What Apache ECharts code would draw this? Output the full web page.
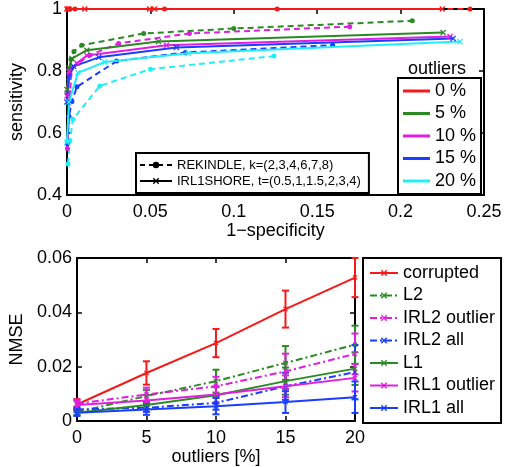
<!DOCTYPE html>
<html><head><meta charset="utf-8">
<script src="https://cdn.jsdelivr.net/npm/echarts@6/dist/echarts.min.js"></script>
<style>html,body{margin:0;padding:0;background:#fff}#c{width:510px;height:467px}</style>
</head><body><div id="c"></div>
<script>
// ---------- top chart data: [1-specificity, sensitivity] ----------
const outlierLevels = ['0 %', '5 %', '10 %', '15 %', '20 %'];
const rekindle0 = [[0.0003,1],[0.0018,1],[0.0048,1],[0.0585,1],[0.126,1],[0.2416,1]];
const irl1shore0 = [[0,1],[0.0009,1],[0.0107,1],[0.0495,1],[0.0525,1],[0.225,1]];
const rekindle5 = [[0.0003,0.727],[0.0024,0.838],[0.0042,0.863],[0.0089,0.883],[0.046,0.921],[0.1,0.937],[0.207,0.962]];
const irl1shore5 = [[0,0.74],[0.0012,0.81],[0.003,0.84],[0.0119,0.867],[0.0549,0.895],[0.2255,0.924]];
const rekindle10 = [[0.0003,0.55],[0.0018,0.73],[0.003,0.81],[0.0137,0.851],[0.031,0.889],[0.0734,0.921],[0.1695,0.943]];
const irl1shore10 = [[0,0.72],[0.0012,0.80],[0.006,0.825],[0.012,0.85],[0.0597,0.883],[0.2297,0.911]];
const rekindle15 = [[0.0003,0.565],[0.0012,0.654],[0.003,0.702],[0.006,0.749],[0.0298,0.832],[0.071,0.86],[0.1593,0.883]];
const irl1shore15 = [[0,0.70],[0.0012,0.78],[0.004,0.815],[0.0191,0.844],[0.0656,0.876],[0.2315,0.905]];
const rekindle20 = [[0.0006,0.50],[0.0018,0.575],[0.0036,0.644],[0.0197,0.752],[0.0501,0.806],[0.1241,0.848]];
const irl1shore20 = [[0,0.57],[0.0012,0.70],[0.0066,0.794],[0.0227,0.829],[0.0728,0.857],[0.2357,0.895]];
const topXTicks = [0, 0.05, 0.1, 0.15, 0.2, 0.25];
const topYTicks = [0.4, 0.6, 0.8, 1];

// ---------- bottom chart data: NMSE vs outliers [%] ----------
const outlierPct = [0, 5, 10, 15, 20];
const methodNames = ['corrupted','L2','IRL2 outlier','IRL2 all','L1','IRL1 outlier','IRL1 all'];
const nmseCorrupted   = [0.0061, 0.0177, 0.0287, 0.0412, 0.0528];
const errCorrupted    = [0.0020, 0.0043, 0.0052, 0.0068, 0.0072];
const nmseL2          = [0.0033, 0.0092, 0.0147, 0.0214, 0.0281];
const errL2           = [0.0012, 0.0022, 0.0042, 0.0062, 0.0070];
const nmseIRL2out     = [0.0064, 0.0098, 0.0128, 0.0183, 0.0247];
const errIRL2out      = [0.0015, 0.0025, 0.0035, 0.0065, 0.0075];
const nmseIRL2all     = [0.0043, 0.0049, 0.0067, 0.0128, 0.0180];
const errIRL2all      = [0.0010, 0.0015, 0.0025, 0.0050, 0.0100];
const nmseL1          = [0.0031, 0.0059, 0.0095, 0.0147, 0.0193];
const errL1           = [0.0010, 0.0015, 0.0030, 0.0050, 0.0060];
const nmseIRL1out     = [0.0059, 0.0076, 0.0098, 0.0128, 0.0159];
const errIRL1out      = [0.0015, 0.0020, 0.0030, 0.0040, 0.0050];
const nmseIRL1all     = [0.0031, 0.0043, 0.0055, 0.0070, 0.0088];
const errIRL1all      = [0.0012, 0.0020, 0.0030, 0.0040, 0.0058];

// ---------- styling ----------
const FONT = 'Liberation Sans';
const RED = '#f51a1a', GREEN = '#2a8a22', MAG = '#e01ee0', BLUE = '#1a3dff', CYAN = '#22eef6';
const levelColors = [RED, GREEN, MAG, BLUE, CYAN];
const XSYM = 'path://M0,1.5L1.5,0L5,3.5L8.5,0L10,1.5L6.5,5L10,8.5L8.5,10L5,6.5L1.5,10L0,8.5L3.5,5Z';

const rekAll = [rekindle0, rekindle5, rekindle10, rekindle15, rekindle20];
const irlAll = [irl1shore0, irl1shore5, irl1shore10, irl1shore15, irl1shore20];

const series = [];
irlAll.forEach((d, i) => series.push({
  name: outlierLevels[i], type: 'line', xAxisIndex: 0, yAxisIndex: 0, data: d,
  clip: false, symbol: XSYM, symbolSize: 6, showSymbol: true,
  lineStyle: {color: levelColors[i], width: 2}, itemStyle: {color: levelColors[i]}, z: 3
}));
rekAll.forEach((d, i) => series.push({
  name: outlierLevels[i], type: 'line', xAxisIndex: 0, yAxisIndex: 0, data: d,
  clip: false, symbol: 'circle', symbolSize: 5, showSymbol: true,
  lineStyle: {color: levelColors[i], width: 2, type: [6, 4]}, itemStyle: {color: levelColors[i]}, z: 2
}));
series.push({name: 'REKINDLE, k=(2,3,4,6,7,8)', type: 'line', xAxisIndex: 0, yAxisIndex: 0, data: [],
  symbol: 'circle', symbolSize: 5, lineStyle: {color: '#000', width: 2, type: [5, 4]}, itemStyle: {color: '#000'}});
series.push({name: 'IRL1SHORE, t=(0.5,1,1.5,2,3,4)', type: 'line', xAxisIndex: 0, yAxisIndex: 0, data: [],
  symbol: XSYM, symbolSize: 5, lineStyle: {color: '#000', width: 2}, itemStyle: {color: '#000'}});

const bottomVals = [nmseCorrupted, nmseL2, nmseIRL2out, nmseIRL2all, nmseL1, nmseIRL1out, nmseIRL1all];
const bottomErrs = [errCorrupted, errL2, errIRL2out, errIRL2all, errL1, errIRL1out, errIRL1all];
const bottomColors = [RED, GREEN, MAG, BLUE, GREEN, MAG, BLUE];
const bottomDash = [false, true, true, true, false, false, false];
bottomVals.forEach((v, i) => series.push({
  name: methodNames[i], type: 'line', xAxisIndex: 2, yAxisIndex: 2,
  data: outlierPct.map((x, j) => [x, v[j]]), clip: false,
  symbol: XSYM, symbolSize: 5, showSymbol: true,
  lineStyle: {color: bottomColors[i], width: 2, type: bottomDash[i] ? [7, 3, 2, 3] : 'solid'},
  itemStyle: {color: bottomColors[i]}, z: 3
}));
bottomVals.forEach((v, i) => series.push({
  name: methodNames[i], type: 'custom', xAxisIndex: 2, yAxisIndex: 2, clip: false, z: 2,
  data: outlierPct.map((x, j) => [x, v[j] - bottomErrs[i][j], v[j] + bottomErrs[i][j]]),
  renderItem: function (params, api) {
    const x = api.value(0);
    const a = api.coord([x, api.value(1)]), b = api.coord([x, api.value(2)]);
    const w = 3.5, st = {stroke: bottomColors[i], lineWidth: 2};
    return {type: 'group', children: [
      {type: 'line', shape: {x1: a[0], y1: a[1], x2: b[0], y2: b[1]}, style: st},
      {type: 'line', shape: {x1: a[0]-w, y1: a[1], x2: a[0]+w, y2: a[1]}, style: st},
      {type: 'line', shape: {x1: b[0]-w, y1: b[1], x2: b[0]+w, y2: b[1]}, style: st}
    ]};
  }
}));

const lblStyle = {color: '#000', fontSize: 18, fontFamily: FONT};
function mainAxis(extra) {
  return Object.assign({
    axisLine: {show: true, onZero: false, lineStyle: {color: '#000', width: 2}},
    axisTick: {show: true, inside: true, length: 5, lineStyle: {color: '#000', width: 1.5}},
    axisLabel: Object.assign({margin: 8}, lblStyle),
    splitLine: {show: false},
    nameTextStyle: lblStyle, nameLocation: 'middle'
  }, extra);
}
function mirrorAxis(extra) {
  return Object.assign({
    axisLine: {show: true, onZero: false, lineStyle: {color: '#000', width: 2}},
    axisTick: {show: true, inside: true, length: 5, lineStyle: {color: '#000', width: 1.5}},
    axisLabel: {show: false}, splitLine: {show: false}
  }, extra);
}

const option = {
  animation: false,
  textStyle: {fontFamily: FONT},
  grid: [
    {left: 65, top: 6, width: 419, height: 189, containLabel: false},
    {left: 76, top: 258, width: 279, height: 164, containLabel: false}
  ],
  xAxis: [
    mainAxis({type: 'value', gridIndex: 0, min: topXTicks[0], max: topXTicks[topXTicks.length-1], interval: 0.05,
      name: '1\u2212specificity', nameGap: 25}),
    mirrorAxis({type: 'value', gridIndex: 0, position: 'top', min: topXTicks[0], max: topXTicks[topXTicks.length-1], interval: 0.05}),
    mainAxis({type: 'value', gridIndex: 1, min: outlierPct[0], max: outlierPct[outlierPct.length-1], interval: 5,
      name: 'outliers [%]', nameGap: 24}),
    mirrorAxis({type: 'value', gridIndex: 1, position: 'top', min: 0, max: 20, interval: 5})
  ],
  yAxis: [
    mainAxis({type: 'value', gridIndex: 0, min: topYTicks[0], max: topYTicks[topYTicks.length-1], interval: 0.2,
      name: 'sensitivity', nameGap: 40, axisLabel: Object.assign({margin: 5}, lblStyle)}),
    mirrorAxis({type: 'value', gridIndex: 0, position: 'right', min: 0.4, max: 1, interval: 0.2}),
    mainAxis({type: 'value', gridIndex: 1, min: 0, max: 0.06, interval: 0.02,
      name: 'NMSE', nameGap: 50, axisLabel: Object.assign({margin: 5}, lblStyle)}),
    mirrorAxis({type: 'value', gridIndex: 1, position: 'right', min: 0, max: 0.06, interval: 0.02})
  ],
  legend: [
    {
      data: outlierLevels.map(n => ({name: n, icon: 'rect'})),
      orient: 'vertical', left: 401, top: 80, z: 20,
      padding: [2, 2, 2, 2], itemGap: 4.5, itemWidth: 27, itemHeight: 3,
      textStyle: {fontSize: 18, fontFamily: FONT, color: '#000', lineHeight: 18},
      borderWidth: 0, selectedMode: false
    },
    {
      data: ['REKINDLE, k=(2,3,4,6,7,8)', 'IRL1SHORE, t=(0.5,1,1.5,2,3,4)'],
      orient: 'vertical', left: 136, top: 153,
      padding: [5.5, 8, 5.5, 3], itemGap: 3, itemWidth: 32, itemHeight: 8,
      textStyle: {fontSize: 13, fontFamily: FONT, color: '#000', lineHeight: 13},
      borderColor: '#000', borderWidth: 2, backgroundColor: '#fff', selectedMode: false
    },
    {
      data: methodNames,
      orient: 'vertical', left: 363, top: 258,
      padding: [6, 6, 6, 6], itemGap: 4.5, itemWidth: 28, itemHeight: 8,
      textStyle: {fontSize: 18, fontFamily: FONT, color: '#000', lineHeight: 18},
      borderColor: '#000', borderWidth: 2, backgroundColor: '#fff', selectedMode: false
    }
  ],
  graphic: [
    {type: 'rect', left: 397, top: 77, z: 10, shape: {width: 83, height: 116},
      style: {fill: '#fff', stroke: '#000', lineWidth: 2}},
    {type: 'text', left: 408, top: 60, z: 10, style: {text: 'outliers', font: '18px "Liberation Sans"', fill: '#000'}}
  ],
  series: series
};
const chart = echarts.init(document.getElementById('c'), null, {renderer: 'canvas'});
chart.setOption(option);
</script></body></html>
